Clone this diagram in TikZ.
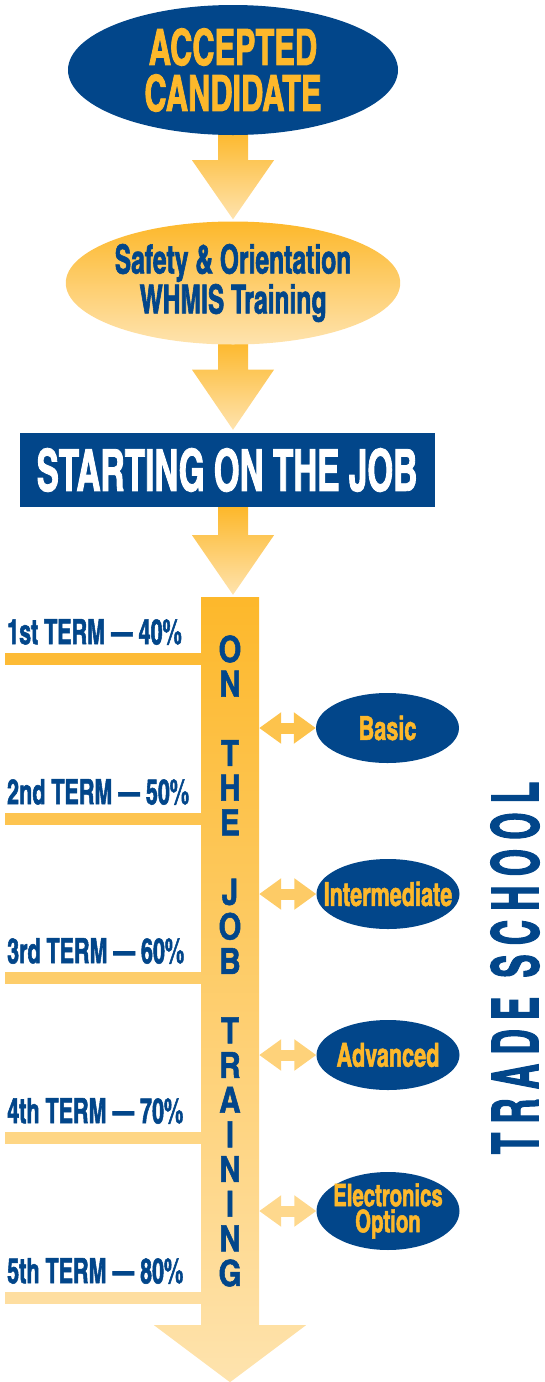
\documentclass[tikz,border=0pt]{standalone}
\usepackage{fontspec}
\newfontfamily\condfont{texgyreheroscn-bold.otf}[FakeStretch=0.75, FakeBold=1.5]
\newfontfamily\startfont{texgyreheroscn-bold.otf}[FakeStretch=0.7, FakeBold=1.5]
\newfontfamily\ovalfont{texgyreheroscn-bold.otf}[FakeStretch=0.8, FakeBold=1.5]
\newfontfamily\plaincondfont{texgyreheroscn-bold.otf}[FakeBold=1.5]
\newfontfamily\spacedfont{texgyreheroscn-bold.otf}[FakeStretch=0.66, LetterSpace=14, FakeBold=1.5]
\usepackage{tikz}
\usetikzlibrary{shapes.geometric, arrows.meta, positioning, backgrounds, calc}
\definecolor{SchoolNavy}{HTML}{02468A}
\definecolor{GoldTop}{HTML}{FDB82B}
\definecolor{GoldPale}{HTML}{FEE3AE}
\tikzset{
  % Node styles
  stageoval/.style={ellipse, fill=SchoolNavy, text=GoldTop, minimum width=330pt, minimum height=130pt, inner sep=0pt, align=center, font=\condfont\fontsize{50}{46}\selectfont},
  trainoval/.style={ellipse, top color=GoldTop, bottom color=GoldPale, minimum width=330pt, minimum height=123pt, inner sep=0pt, align=center, text=SchoolNavy, font=\condfont\fontsize{40}{40}\selectfont},
  startbox/.style={rectangle, fill=SchoolNavy, text=white, minimum width=415pt, minimum height=74pt, font=\startfont\fontsize{58}{58}\selectfont},
  schooloval/.style={ellipse, fill=SchoolNavy, text=GoldTop, minimum width=143pt, minimum height=70pt, inner ysep=0pt, inner xsep=-30pt, align=center, font=\ovalfont\fontsize{33}{25}\selectfont},
  termlabel/.style={inner sep=0pt, text=SchoolNavy, font=\condfont\fontsize{35}{35}\selectfont},
  trainbar/.style={rectangle, top color=GoldTop, bottom color=GoldPale!92!GoldTop, minimum width=58pt, minimum height=728pt, inner sep=0pt, align=center, text=SchoolNavy, font=\plaincondfont\fontsize{36}{34.67}\selectfont},
  tradelabel/.style={inner sep=0pt, text=SchoolNavy, font=\spacedfont\fontsize{65}{65}\selectfont},
  % Arrow styles
  flowarrow/.style={top color=GoldTop, bottom color=GoldPale},
  termline/.style={line width=12pt},
  bothway/.style={line width=11pt, {Triangle[length=22pt, width=30pt]}-{Triangle[length=22pt, width=30pt]}}
}
\begin{document}
\begin{tikzpicture}[x=1pt, y=-1pt]
  \useasboundingbox (0,0) rectangle (545,1382);

  % Entry stages
  \node[stageoval] (cand) at (233,70) {ACCEPTED\\CANDIDATE};
  \node[trainoval] (safety) at (233,283) {Safety \& Orientation\\WHMIS Training};
  \node[startbox] (start) at (227,470) {STARTING ON THE JOB};

  % On the job training bar
  \node[trainbar] (otj) at (230,961) {O\\N\\[34.67pt]T\\H\\E\\[34.67pt]J\\O\\B\\[34.67pt]T\\R\\A\\I\\N\\I\\N\\G};
  \shade[top color=GoldPale!92!GoldTop, bottom color=GoldPale] ($(otj.south)+(-76,0)$) -- ($(otj.south)+(76,0)$) -- ($(otj.south)+(0,57)$) -- cycle;

  % Terms
  \coordinate (m1) at (5,659);
  \coordinate (m2) at (5,819);
  \coordinate (m3) at (5,978);
  \coordinate (m4) at (5,1138);
  \coordinate (m5) at (5,1298);
  \node[termlabel, above right=14pt and 2pt of m1] (t1) {1st TERM — 40\%};
  \node[termlabel, above right=14pt and 2pt of m2] (t2) {2nd TERM — 50\%};
  \node[termlabel, above right=14pt and 2pt of m3] (t3) {3rd TERM — 60\%};
  \node[termlabel, above right=14pt and 2pt of m4] (t4) {4th TERM — 70\%};
  \node[termlabel, above right=14pt and 2pt of m5] (t5) {5th TERM — 80\%};
  \draw[termline, GoldPale!8!GoldTop] (m1) -- (m1 -| otj.west);
  \draw[termline, GoldPale!28!GoldTop] (m2) -- (m2 -| otj.west);
  \draw[termline, GoldPale!49!GoldTop] (m3) -- (m3 -| otj.west);
  \draw[termline, GoldPale!69!GoldTop] (m4) -- (m4 -| otj.west);
  \draw[termline, GoldPale!89!GoldTop] (m5) -- (m5 -| otj.west);

  % Trade school levels
  \node[schooloval] (basic) at (387.5,728) {Basic};
  \node[schooloval] (inter) at (388,894) {Intermediate};
  \node[schooloval] (adv) at (388,1055) {Advanced};
  \node[schooloval, font=\ovalfont\fontsize{31}{26}\selectfont] (elec) at (388,1211) {Electronics\\Option};
  \draw[bothway, GoldPale!25!GoldTop] (otj.east |- basic) -- (basic.west);
  \draw[bothway, GoldPale!45!GoldTop] (otj.east |- inter) -- (inter.west);
  \draw[bothway, GoldPale!60!GoldTop] (otj.east |- adv) -- (adv.west);
  \draw[bothway, GoldPale!75!GoldTop] (otj.east |- elec) -- (elec.west);

  \node[tradelabel, rotate=90] (trade) at (515,968) {TRADE SCHOOL};

  % Flow arrows
  \begin{scope}[on background layer]
    \shade[flowarrow] ($(cand.south)+(-15,-4)$) -- ($(cand.south)+(15,-4)$) -- ($(cand.south)+(15,25)$) -- ($(cand.south)+(41,25)$) -- ($(safety.north)+(0,-2)$) -- ($(cand.south)+(-41,25)$) -- ($(cand.south)+(-15,25)$) -- cycle;
    \shade[flowarrow] ($(safety.south)+(-15,-4)$) -- ($(safety.south)+(15,-4)$) -- ($(safety.south)+(15,25)$) -- ($(safety.south)+(41,25)$) -- ($(start.north)+(6,-3)$) -- ($(safety.south)+(-41,25)$) -- ($(safety.south)+(-15,25)$) -- cycle;
    \shade[flowarrow] ($(start.south)+(-9,0)$) -- ($(start.south)+(21,0)$) -- ($(start.south)+(21,28)$) -- ($(start.south)+(47,28)$) -- ($(otj.north)+(3,-2)$) -- ($(start.south)+(-35,28)$) -- ($(start.south)+(-9,28)$) -- cycle;
  \end{scope}
\end{tikzpicture}
\end{document}
